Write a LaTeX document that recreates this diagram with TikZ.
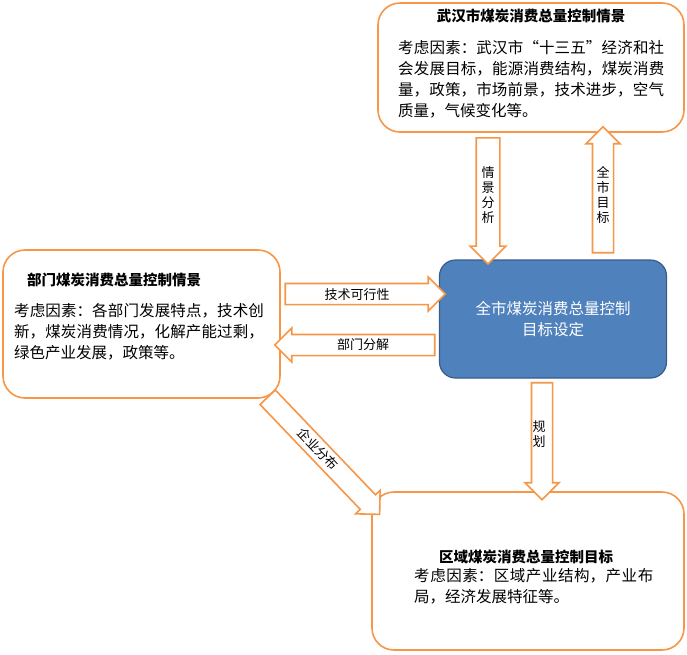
\documentclass[tikz,border=0pt]{standalone}
\usepackage{fontspec}
\newfontfamily\cjk{Noto Sans CJK SC}
\XeTeXlinebreaklocale "zh"
\XeTeXlinebreakskip=0pt plus 1pt
\usetikzlibrary{shapes.arrows}
\definecolor{arr}{RGB}{247,150,70}
\definecolor{blu}{RGB}{79,129,189}
\definecolor{blud}{RGB}{56,93,138}
\begin{document}
\begin{tikzpicture}[x=1pt,y=-1pt,font=\cjk\fontsize{15.5}{21}\selectfont,
  box/.style={draw=arr,line width=1.6pt,rounded corners=22pt,fill=white},
  harrow/.style={single arrow,draw=arr,line width=1.6pt,fill=white,inner sep=0pt,inner ysep=9pt,minimum width=34pt,single arrow head extend=6pt},
  lbl/.style={inner sep=0pt,font=\cjk\fontsize{13}{15}\selectfont},
  ttl/.style={font=\cjk\bfseries\fontsize{14.5}{16}\selectfont}]
\useasboundingbox (0,0) rectangle (687,654);
% boxes
\draw[box] (378,3) rectangle (684,132);
\draw[box] (3,250) rectangle (280,398);
\draw[box] (372,492) rectangle (684,650);
\node[draw=blud,line width=1.2pt,fill=blu,rounded corners=16pt,minimum width=227pt,minimum height=118pt,text=white,align=center,font=\cjk\fontsize{15.5}{21}\selectfont] (c) at (553,319) {全市煤炭消费总量控制\\目标设定};
% box texts
\node[ttl] (t1) at (531,16) {武汉市煤炭消费总量控制情景};
\node[anchor=north west,align=left,text width=272pt,inner sep=0pt] (t1b) at (398,40) {考虑因素：武汉市“十三五”经济和社会发展目标，能源消费结构，煤炭消费量，政策，市场前景，技术进步，空气质量，气候变化等。};
\node[ttl] (t2) at (114,280) {部门煤炭消费总量控制情景};
\node[anchor=north west,align=left,text width=254pt,inner sep=0pt] (t2b) at (14,303) {考虑因素：各部门发展特点，技术创新，煤炭消费情况，化解产能过剩，绿色产业发展，政策等。};
\node[ttl] (t3) at (526,557) {区域煤炭消费总量控制目标};
\node[anchor=north west,align=left,text width=256pt,inner sep=0pt] (t3b) at (414,568) {考虑因素：区域产业结构，产业布局，经济发展特征等。};
% arrows
\node[harrow,minimum height=126pt,rotate=-90,inner ysep=11pt] (a1) at (488,195) {};
\node[harrow,minimum height=126pt,rotate=90] (a2) at (603,195) {};
\node[harrow,minimum height=160pt] (a3) at (360,294) {};
\node[harrow,minimum height=160pt,rotate=180] (a4) at (360,345) {};
\node[harrow,minimum height=117pt,rotate=-90] (a5) at (542,436) {};
\node[harrow,minimum height=162pt,rotate=-46.3] (a6) at (320,452) {};
% labels
\node[lbl,align=center] (l1) at (488,195) {情\\景\\分\\析};
\node[lbl,align=center] (l2) at (603,195) {全\\市\\目\\标};
\node[lbl] (l3) at (357,295) {技术可行性};
\node[lbl] (l4) at (363,345) {部门分解};
\node[lbl,align=center] (l5) at (539,434) {规\\划};
\node[lbl,rotate=-46.3] (l6) at (318,449) {企业分布};
\end{tikzpicture}
\end{document}
